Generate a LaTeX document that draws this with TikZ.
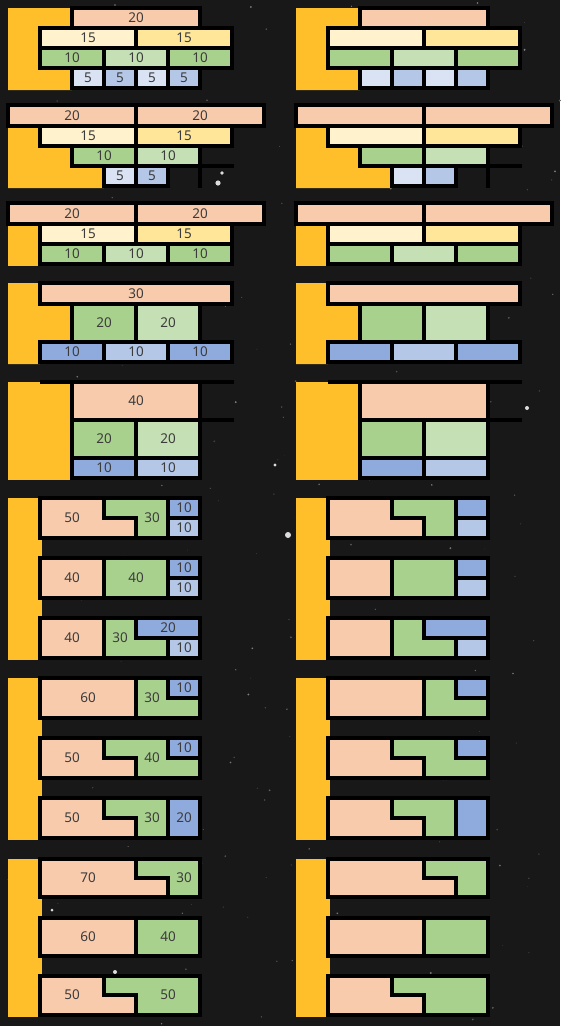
\documentclass[tikz,border=0pt]{standalone}
\usepackage{fontspec}
\setmainfont{Noto Sans}
\usepackage{tikz}

\definecolor{bgsky}{HTML}{181818}
\definecolor{gold}{HTML}{FFBF2B}
\definecolor{peach}{HTML}{F8CBAD}
\definecolor{cream}{HTML}{FFF2CC}
\definecolor{butter}{HTML}{FFE699}
\definecolor{leaf}{HTML}{A9D18E}
\definecolor{mint}{HTML}{C5E0B4}
\definecolor{sky}{HTML}{8FAADC}
\definecolor{mist}{HTML}{B4C7E7}
\definecolor{haze}{HTML}{DAE3F3}
\definecolor{digit}{HTML}{3B3B3B}

\tikzset{
  cellbox/.style={draw=black, line width=4pt},
  val/.style={text=digit, font=\fontsize{13.5}{15}\selectfont, inner sep=0pt},
  spine/.style={fill=gold},
  rule/.style={black, line width=4pt},
}

\newif\ifshowval
% fill, x1, y1, x2, y2, value
\newcommand{\cell}[6]{%
  \draw[cellbox, fill=#1] (#2,#3) rectangle (#4,#5);
  \ifshowval\node[val] (v#2-#3) at ({(#2+#4)/2},{(#3+#5)/2}) {#6};\fi}
% fill, outline, name, label position, value
\newcommand{\piece}[5]{%
  \draw[cellbox, fill=#1] #2 -- cycle;
  \ifshowval\node[val] (#3) at #4 {#5};\fi}

\newcommand{\drawpanel}{%
  % quarters
  \fill[spine] (8,8) -- (72,8) -- (72,28) -- (40,28) -- (40,68) -- (72,68) -- (72,90) -- (8,90) -- cycle;
  \cell{peach}{72}{8}{200}{28}{20}
  \cell{cream}{40}{28}{136}{48}{15}
  \cell{butter}{136}{28}{232}{48}{15}
  \cell{leaf}{40}{48}{104}{68}{10}
  \cell{mint}{104}{48}{168}{68}{10}
  \cell{leaf}{168}{48}{232}{68}{10}
  \cell{haze}{72}{68}{104}{88}{5}
  \cell{mist}{104}{68}{136}{88}{5}
  \cell{haze}{136}{68}{168}{88}{5}
  \cell{mist}{168}{68}{200}{88}{5}
  % stairs
  \fill[spine] (8,126) -- (40,126) -- (40,146) -- (72,146) -- (72,166) -- (104,166) -- (104,188) -- (8,188) -- cycle;
  \cell{peach}{8}{105}{136}{126}{20}
  \cell{peach}{136}{105}{264}{126}{20}
  \cell{cream}{40}{126}{136}{146}{15}
  \cell{butter}{136}{126}{232}{146}{15}
  \cell{leaf}{72}{146}{136}{166}{10}
  \cell{mint}{136}{146}{200}{166}{10}
  \cell{haze}{104}{166}{136}{186}{5}
  \cell{mist}{136}{166}{168}{186}{5}
  \draw[rule] (200,166) -- (234,166);
  \draw[rule] (200,164) -- (200,188);
  % three rows
  \fill[spine] (8,224) -- (40,224) -- (40,266) -- (8,266) -- cycle;
  \cell{peach}{8}{203}{136}{224}{20}
  \cell{peach}{136}{203}{264}{224}{20}
  \cell{cream}{40}{224}{136}{244}{15}
  \cell{butter}{136}{224}{232}{244}{15}
  \cell{leaf}{40}{244}{104}{264}{10}
  \cell{mint}{104}{244}{168}{264}{10}
  \cell{leaf}{168}{244}{232}{264}{10}
  % thirty
  \fill[spine] (8,283) -- (40,283) -- (40,304) -- (72,304) -- (72,342) -- (40,342) -- (40,364) -- (8,364) -- cycle;
  \cell{peach}{40}{283}{232}{304}{30}
  \cell{leaf}{72}{304}{136}{342}{20}
  \cell{mint}{136}{304}{200}{342}{20}
  \cell{sky}{40}{342}{104}{362}{10}
  \cell{mist}{104}{342}{168}{362}{10}
  \cell{sky}{168}{342}{232}{362}{10}
  % forty
  \fill[spine] (8,382) -- (72,382) -- (72,480) -- (8,480) -- cycle;
  \cell{peach}{72}{382}{200}{420}{40}
  \cell{leaf}{72}{420}{136}{458}{20}
  \cell{mint}{136}{420}{200}{458}{20}
  \cell{sky}{72}{458}{136}{478}{10}
  \cell{mist}{136}{458}{200}{478}{10}
  \draw[rule] (40,382) -- (234,382);
  \draw[rule] (200,420) -- (234,420);
  % bars, first set
  \fill[spine] (8,498) -- (42,498) -- (42,660) -- (8,660) -- cycle;
  \piece{peach}{(40,498) -- (104,498) -- (104,518) -- (136,518) -- (136,538) -- (40,538)}{v50a}{(72,518)}{50}
  \piece{leaf}{(104,498) -- (168,498) -- (168,538) -- (136,538) -- (136,518) -- (104,518)}{v30a}{(152,518)}{30}
  \cell{sky}{168}{498}{200}{518}{10}
  \cell{mist}{168}{518}{200}{538}{10}
  \cell{peach}{40}{558}{104}{598}{40}
  \cell{leaf}{104}{558}{168}{598}{40}
  \cell{sky}{168}{558}{200}{578}{10}
  \cell{mist}{168}{578}{200}{598}{10}
  \cell{peach}{40}{618}{104}{658}{40}
  \piece{leaf}{(104,618) -- (136,618) -- (136,638) -- (168,638) -- (168,658) -- (104,658)}{v30b}{(120,638)}{30}
  \cell{sky}{136}{618}{200}{638}{20}
  \cell{mist}{168}{638}{200}{658}{10}
  % bars, second set
  \fill[spine] (8,678) -- (42,678) -- (42,840) -- (8,840) -- cycle;
  \cell{peach}{40}{678}{136}{718}{60}
  \piece{leaf}{(136,678) -- (168,678) -- (168,698) -- (200,698) -- (200,718) -- (136,718)}{v30c}{(152,698)}{30}
  \cell{sky}{168}{678}{200}{698}{10}
  \piece{peach}{(40,738) -- (104,738) -- (104,758) -- (136,758) -- (136,778) -- (40,778)}{v50b}{(72,758)}{50}
  \piece{leaf}{(104,738) -- (168,738) -- (168,758) -- (200,758) -- (200,778) -- (136,778) -- (136,758) -- (104,758)}{v40a}{(152,758)}{40}
  \cell{sky}{168}{738}{200}{758}{10}
  \piece{peach}{(40,798) -- (104,798) -- (104,818) -- (136,818) -- (136,838) -- (40,838)}{v50c}{(72,818)}{50}
  \piece{leaf}{(104,798) -- (168,798) -- (168,838) -- (136,838) -- (136,818) -- (104,818)}{v30d}{(152,818)}{30}
  \cell{sky}{168}{798}{200}{838}{20}
  % bars, two colours
  \fill[spine] (8,859) -- (42,859) -- (42,1017) -- (8,1017) -- cycle;
  \piece{peach}{(40,859) -- (136,859) -- (136,878) -- (168,878) -- (168,897) -- (40,897)}{v70a}{(88,878)}{70}
  \piece{leaf}{(136,859) -- (200,859) -- (200,897) -- (168,897) -- (168,878) -- (136,878)}{v30e}{(184,878)}{30}
  \cell{peach}{40}{918}{136}{956}{60}
  \cell{leaf}{136}{918}{200}{956}{40}
  \piece{peach}{(40,976) -- (104,976) -- (104,995) -- (136,995) -- (136,1015) -- (40,1015)}{v50d}{(72,995)}{50}
  \piece{leaf}{(104,976) -- (200,976) -- (200,1015) -- (136,1015) -- (136,995) -- (104,995)}{v50e}{(168,995)}{50}
}

\begin{document}
\begin{tikzpicture}[x=1pt, y=-1pt]
  \fill[bgsky] (0,0) rectangle (560,1026);
  \useasboundingbox (0,0) rectangle (560,1026);
  % star field
  \pgfmathsetseed{4}
  \foreach \s in {1,...,260}{%
    \pgfmathsetmacro\sx{rnd*560}%
    \pgfmathsetmacro\sy{rnd*1026}%
    \pgfmathsetmacro\sr{0.3+0.8*rnd}%
    \pgfmathtruncatemacro\sg{15+35*rnd}%
    \fill[white!\sg!bgsky] (\sx,\sy) circle (\sr);
  }
  \foreach \sx/\sy/\sr in {222/173/1.8, 218/183/2.6, 288/535/3, 275/465/1.6, 527/408/2, 115/972/2, 52/910/1.5}
    \fill[white!85!bgsky] (\sx,\sy) circle (\sr);
  % left panel, with values
  \showvaltrue
  \drawpanel
  % right panel, blank
  \showvalfalse
  \begin{scope}[xshift=288pt]
    \drawpanel
  \end{scope}
\end{tikzpicture}
\end{document}
